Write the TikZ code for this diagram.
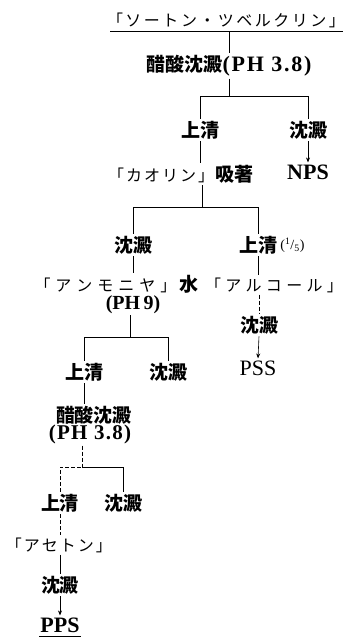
\documentclass[tikz,border=0pt]{standalone}
\usepackage{fontspec}
\setmainfont{Liberation Serif}
\newfontfamily\jp{Noto Sans CJK JP}
\usetikzlibrary{arrows.meta}
\ExplSyntaxOn
\NewDocumentCommand\spaced{m m}{\tl_map_inline:nn {#2}{\makebox[#1][c]{##1}}}
\ExplSyntaxOff
\begin{document}
\begin{tikzpicture}[x=1pt,y=-1pt,
  every node/.style={inner sep=2pt,anchor=center},
  kanji/.style={font=\jp\bfseries\fontsize{19}{21}\selectfont},
  lat/.style={font=\bfseries\fontsize{22}{24}\selectfont},
  kanafont/.style={font=\jp\fontsize{16}{18}\selectfont},
  ln/.style={line width=0.6pt},
  dln/.style={ln,dash pattern=on 4pt off 2pt},
  arr/.style={ln,-{Stealth[length=5pt,width=4pt]}}]
\useasboundingbox (0,0) rectangle (352,643);
% title
\node[kanafont] (t) at (226,20) {\spaced{18.5pt}{「ソートン・ツベルクリン」}};
\coordinate (ul1) at (110,31);
\coordinate (ul2) at (343,31);
\draw[line width=0.4pt] (ul1) -- (ul2);
\node[kanji] (a1) at (229,66) {醋酸沈澱{\normalfont\bfseries\fontsize{22}{24}\selectfont\addfontfeature{LetterSpace=8}(PH 3.8)}};
\node[kanji] (b1) at (200,130) {上清};
\node[kanji] (c1) at (308,130) {沈澱};
\node[lat] (nps) at (308,172) {NPS};
\node (k) at (180,174) {{\jp\fontsize{16}{18}\selectfont\spaced{18pt}{「カオリン」}}{\jp\bfseries\fontsize{19}{21}\selectfont 吸著}};
\node[kanji] (d1) at (133,245) {沈澱};
\node[kanji] (e1) at (258,245) {上清};
\node[anchor=west,font=\fontsize{14}{16}\selectfont,inner sep=0pt] (e1f) at ([xshift=1pt]e1.east) {(\textsuperscript{1}/\textsubscript{5})};
\node (am) at (115,284) {{\jp\fontsize{16}{18}\selectfont\spaced{21pt}{「アンモニヤ」}}{\jp\bfseries\fontsize{19}{21}\selectfont 水}};
\node[font=\bfseries\fontsize{20}{22}\selectfont,inner sep=1pt] (ph9) at (133,305) {(PH\,9)};
\node[kanafont] (al) at (274,285) {\spaced{20.3pt}{「アルコール」}};
\node[kanji] (d2) at (259,325) {沈澱};
\node[font=\fontsize{22}{24}\selectfont] (pss) at (258,368) {PSS};
\node[kanji] (b3) at (84,372) {上清};
\node[kanji] (c3) at (168,372) {沈澱};
\node[kanji] (m) at (94,415) {醋酸沈澱};
\node[font=\bfseries\fontsize{21}{23}\selectfont\addfontfeature{LetterSpace=6}] (mph) at (90,434) {(PH 3.8)};
\node[kanji] (b4) at (60,503) {上清};
\node[kanji] (c4) at (123,503) {沈澱};
\node[kanafont] (ac) at (59,545) {\spaced{18pt}{「アセトン」}};
\node[kanji] (d5) at (60,585) {沈澱};
\node[lat] (pps) at (60,625) {PPS};
\coordinate (ul3) at (39,636);
\coordinate (ul4) at (81,636);
\draw[line width=0.4pt] (ul3) -- (ul4);
% connectors
\coordinate (j1) at (229,96);
\coordinate (j2) at (202,207);
\coordinate (j3) at (130,337);
\coordinate (j4) at (82,467);
\draw[ln] (a1.north |- ul1) -- (a1.north);
\draw[ln] (a1.south) -- (j1);
\draw[ln] (b1.north) |- (j1);
\draw[ln] (c1.north) |- (j1);
\draw[ln] (b1.south) -- (b1.south |- k.north);
\draw[arr] (c1.south) -- (nps.north);
\draw[ln] (k.south -| j2) -- (j2);
\draw[ln] (d1.north) |- (j2);
\draw[ln] (e1.north) |- (j2);
\draw[ln] (d1.south) -- (d1.south |- am.north);
\draw[ln] (e1.south) -- (e1.south |- al.north);
\draw[dln] (d2.north |- al.south) -- (d2.north);
\draw[arr] (d2.south) -- (pss.north);
\draw[ln] (ph9.south -| j3) -- (j3);
\draw[ln] (b3.north) |- (j3);
\draw[ln] (c3.north) |- (j3);
\draw[ln] (b3.south) -- (b3.south |- m.north);
\draw[dln] (mph.south -| j4) -- (j4);
\draw[dln] (b4.north) |- (j4);
\draw[ln] (c4.north) |- (j4);
\draw[dln] (b4.south) -- (b4.south |- ac.north);
\draw[ln] (d5.north |- ac.south) -- (d5.north);
\draw[arr] (d5.south) -- (pps.north);
\end{tikzpicture}
\end{document}
